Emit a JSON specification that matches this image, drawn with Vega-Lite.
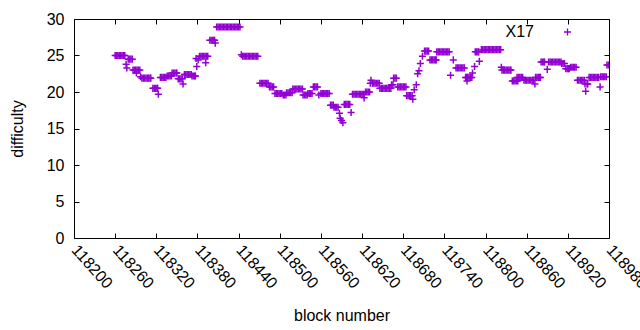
{
  "$schema": "https://vega.github.io/schema/vega-lite/v6.json",
  "width": 535,
  "height": 219,
  "autosize": {"type": "none"},
  "padding": {"left": 74, "top": 19, "right": 31, "bottom": 92},
  "background": "white",
  "config": {
    "view": {"stroke": "black", "strokeWidth": 1},
    "font": "Liberation Sans",
    "axis": {
      "labelFont": "Liberation Sans", "labelFontSize": 16, "labelColor": "black",
      "titleFont": "Liberation Sans", "titleFontSize": 16, "titleFontWeight": "normal", "titleColor": "black",
      "grid": false, "domain": false, "tickColor": "black", "tickSize": -5, "tickWidth": 1, "labelPadding": 15
    }
  },
  "data": {"values": [
    {"b":118260,"d":25},{"b":118262,"d":25},{"b":118264,"d":25},{"b":118266,"d":25},{"b":118268,"d":25},{"b":118270,"d":25},{"b":118272,"d":25},{"b":118274,"d":25},
    {"b":118276,"d":23.8},{"b":118277,"d":23.3},
    {"b":118279,"d":24.5},{"b":118281,"d":24.5},{"b":118283,"d":24.5},{"b":118285,"d":24.5},
    {"b":118286,"d":23},{"b":118288,"d":23},{"b":118290,"d":23},{"b":118292,"d":23},{"b":118294,"d":23},{"b":118296,"d":23},
    {"b":118291,"d":22.6},{"b":118297,"d":22.1},
    {"b":118299,"d":21.9},{"b":118301,"d":21.9},{"b":118303,"d":21.9},{"b":118305,"d":21.9},{"b":118307,"d":21.9},{"b":118309,"d":21.9},{"b":118311,"d":21.9},{"b":118312,"d":21.9},
    {"b":118315,"d":20.5},{"b":118317,"d":20.5},{"b":118319,"d":20.5},{"b":118321,"d":20.5},{"b":118322,"d":20.5},
    {"b":118323,"d":19.7},
    {"b":118326,"d":22},{"b":118328,"d":22},{"b":118330,"d":22},{"b":118332,"d":22},{"b":118334,"d":22},
    {"b":118336,"d":22.2},{"b":118338,"d":22.2},{"b":118340,"d":22.2},{"b":118342,"d":22.2},
    {"b":118343,"d":22.6},{"b":118345,"d":22.6},{"b":118347,"d":22.6},{"b":118349,"d":22.6},{"b":118350,"d":22.6},
    {"b":118352,"d":21.8},{"b":118354,"d":21.8},{"b":118356,"d":21.8},{"b":118358,"d":21.8},
    {"b":118359,"d":21.1},
    {"b":118361,"d":22.4},{"b":118363,"d":22.4},{"b":118365,"d":22.4},{"b":118367,"d":22.4},{"b":118369,"d":22.4},{"b":118371,"d":22.4},
    {"b":118372,"d":22.2},{"b":118374,"d":22.2},{"b":118376,"d":22.2},{"b":118377,"d":22.2},
    {"b":118378,"d":24.6},{"b":118379,"d":23.5},{"b":118381,"d":24.4},
    {"b":118383,"d":24.9},{"b":118385,"d":24.9},{"b":118387,"d":24.9},{"b":118389,"d":24.9},{"b":118391,"d":24.9},{"b":118393,"d":24.9},{"b":118395,"d":24.9},
    {"b":118392,"d":24.0},
    {"b":118398,"d":27.1},{"b":118400,"d":27.1},{"b":118402,"d":27.1},{"b":118404,"d":27.1},{"b":118405,"d":27.1},
    {"b":118406,"d":26.7},
    {"b":118408,"d":28.9},{"b":118410,"d":28.9},{"b":118412,"d":28.9},{"b":118414,"d":28.9},{"b":118416,"d":28.9},{"b":118418,"d":28.9},{"b":118420,"d":28.9},{"b":118422,"d":28.9},{"b":118424,"d":28.9},{"b":118426,"d":28.9},{"b":118428,"d":28.9},{"b":118430,"d":28.9},{"b":118432,"d":28.9},{"b":118434,"d":28.9},{"b":118436,"d":28.9},{"b":118438,"d":28.9},{"b":118440,"d":28.9},{"b":118442,"d":28.9},
    {"b":118444,"d":25.1},
    {"b":118446,"d":24.9},{"b":118448,"d":24.9},{"b":118450,"d":24.9},{"b":118452,"d":24.9},{"b":118454,"d":24.9},{"b":118456,"d":24.9},{"b":118458,"d":24.9},{"b":118460,"d":24.9},{"b":118462,"d":24.9},{"b":118464,"d":24.9},{"b":118466,"d":24.9},{"b":118468,"d":24.9},
    {"b":118471,"d":21.2},{"b":118473,"d":21.2},{"b":118475,"d":21.2},{"b":118477,"d":21.2},{"b":118479,"d":21.2},{"b":118481,"d":21.2},{"b":118483,"d":21.2},
    {"b":118485,"d":20.7},{"b":118487,"d":20.7},{"b":118489,"d":20.7},{"b":118491,"d":20.7},
    {"b":118493,"d":19.8},{"b":118495,"d":19.8},{"b":118497,"d":19.8},{"b":118499,"d":19.8},{"b":118501,"d":19.8},{"b":118503,"d":19.8},
    {"b":118505,"d":19.6},{"b":118507,"d":19.6},{"b":118509,"d":19.6},
    {"b":118510,"d":19.9},{"b":118512,"d":19.9},{"b":118514,"d":19.9},{"b":118516,"d":19.9},{"b":118518,"d":19.9},
    {"b":118519,"d":20.4},{"b":118521,"d":20.4},{"b":118523,"d":20.4},{"b":118525,"d":20.4},{"b":118527,"d":20.4},{"b":118529,"d":20.4},{"b":118531,"d":20.4},{"b":118533,"d":20.4},
    {"b":118534,"d":19.6},{"b":118536,"d":19.6},{"b":118538,"d":19.6},{"b":118540,"d":19.6},
    {"b":118541,"d":19.8},{"b":118543,"d":19.8},{"b":118545,"d":19.8},{"b":118547,"d":19.8},
    {"b":118549,"d":20.7},{"b":118551,"d":20.7},{"b":118553,"d":20.7},{"b":118555,"d":20.7},
    {"b":118557,"d":19.6},
    {"b":118560,"d":19.8},{"b":118562,"d":19.8},{"b":118564,"d":19.8},{"b":118566,"d":19.8},{"b":118568,"d":19.8},{"b":118570,"d":19.8},{"b":118572,"d":19.8},
    {"b":118574,"d":18.2},{"b":118576,"d":18.2},{"b":118578,"d":18.2},
    {"b":118579,"d":17.9},{"b":118581,"d":17.9},{"b":118583,"d":17.9},{"b":118585,"d":17.9},
    {"b":118587,"d":17.1},{"b":118588,"d":16.4},{"b":118590,"d":16.1},{"b":118592,"d":15.8},
    {"b":118594,"d":18.3},{"b":118596,"d":18.3},{"b":118598,"d":18.3},{"b":118600,"d":18.3},{"b":118602,"d":18.3},
    {"b":118604,"d":17.2},
    {"b":118606,"d":19.7},{"b":118608,"d":19.7},{"b":118610,"d":19.7},{"b":118612,"d":19.7},{"b":118614,"d":19.7},{"b":118616,"d":19.7},{"b":118618,"d":19.7},{"b":118620,"d":19.7},{"b":118622,"d":19.7},
    {"b":118623,"d":19.2},
    {"b":118625,"d":20},{"b":118627,"d":20},{"b":118629,"d":20},{"b":118631,"d":20},
    {"b":118632,"d":21.2},{"b":118633,"d":21.6},
    {"b":118635,"d":21.2},{"b":118637,"d":21.2},{"b":118639,"d":21.2},{"b":118641,"d":21.2},{"b":118643,"d":21.2},{"b":118645,"d":21.2},
    {"b":118646,"d":20.5},{"b":118648,"d":20.5},{"b":118650,"d":20.5},{"b":118652,"d":20.5},{"b":118654,"d":20.5},{"b":118656,"d":20.5},{"b":118658,"d":20.5},{"b":118660,"d":20.5},{"b":118662,"d":20.5},
    {"b":118663,"d":21.0},{"b":118665,"d":21.0},
    {"b":118666,"d":21.9},{"b":118668,"d":21.9},{"b":118670,"d":21.9},
    {"b":118672,"d":20.7},{"b":118674,"d":20.7},{"b":118676,"d":20.7},{"b":118678,"d":20.7},{"b":118680,"d":20.7},{"b":118682,"d":20.7},{"b":118684,"d":20.7},
    {"b":118685,"d":19.5},{"b":118687,"d":19.5},{"b":118689,"d":19.5},{"b":118691,"d":19.5},{"b":118693,"d":19.5},
    {"b":118694,"d":19.0},{"b":118696,"d":20.3},{"b":118699,"d":21.0},{"b":118701,"d":22.5},{"b":118703,"d":22.9},{"b":118705,"d":23.9},{"b":118708,"d":24.9},
    {"b":118711,"d":25.6},{"b":118713,"d":25.6},{"b":118715,"d":25.6},{"b":118717,"d":25.6},
    {"b":118719,"d":24.4},{"b":118721,"d":24.4},{"b":118723,"d":24.4},{"b":118725,"d":24.4},{"b":118727,"d":24.4},{"b":118728,"d":24.4},
    {"b":118729,"d":25.5},{"b":118731,"d":25.5},{"b":118733,"d":25.5},{"b":118735,"d":25.5},{"b":118737,"d":25.5},{"b":118739,"d":25.5},{"b":118741,"d":25.5},{"b":118743,"d":25.5},{"b":118745,"d":25.5},{"b":118747,"d":25.5},
    {"b":118749,"d":22.3},{"b":118753,"d":24.4},
    {"b":118757,"d":23.3},{"b":118759,"d":23.3},{"b":118761,"d":23.3},{"b":118763,"d":23.3},{"b":118765,"d":23.3},{"b":118767,"d":23.3},{"b":118769,"d":23.3},
    {"b":118771,"d":22},{"b":118772,"d":22},{"b":118774,"d":22},{"b":118776,"d":22},{"b":118778,"d":22},{"b":118780,"d":22},
    {"b":118773,"d":21.5},{"b":118781,"d":22.6},{"b":118784,"d":23.5},
    {"b":118785,"d":25.5},{"b":118787,"d":25.5},{"b":118789,"d":25.5},{"b":118790,"d":25.5},
    {"b":118791,"d":24.2},
    {"b":118794,"d":25.8},{"b":118796,"d":25.8},{"b":118798,"d":25.8},{"b":118800,"d":25.8},{"b":118802,"d":25.8},{"b":118804,"d":25.8},{"b":118806,"d":25.8},{"b":118808,"d":25.8},{"b":118810,"d":25.8},{"b":118812,"d":25.8},{"b":118814,"d":25.8},{"b":118816,"d":25.8},{"b":118818,"d":25.8},{"b":118820,"d":25.8},{"b":118822,"d":25.8},
    {"b":118823,"d":23.4},
    {"b":118824,"d":23},{"b":118826,"d":23},{"b":118828,"d":23},{"b":118830,"d":23},{"b":118832,"d":23},{"b":118834,"d":23},{"b":118836,"d":23},{"b":118837,"d":23},
    {"b":118839,"d":21.5},{"b":118841,"d":21.5},{"b":118843,"d":21.5},{"b":118845,"d":21.5},{"b":118847,"d":21.5},
    {"b":118846,"d":22},{"b":118848,"d":22},{"b":118850,"d":22},{"b":118852,"d":22},{"b":118854,"d":22},
    {"b":118856,"d":21.6},{"b":118858,"d":21.6},{"b":118860,"d":21.6},{"b":118862,"d":21.6},{"b":118864,"d":21.6},{"b":118866,"d":21.6},{"b":118868,"d":21.6},{"b":118870,"d":21.6},
    {"b":118872,"d":21.1},
    {"b":118873,"d":22},{"b":118875,"d":22},{"b":118877,"d":22},{"b":118879,"d":22},{"b":118880,"d":22},
    {"b":118881,"d":24.1},{"b":118883,"d":24.1},{"b":118885,"d":24.1},{"b":118886,"d":24.1},
    {"b":118890,"d":23.1},
    {"b":118892,"d":24.1},{"b":118894,"d":24.1},{"b":118896,"d":24.1},{"b":118898,"d":24.1},{"b":118900,"d":24.1},{"b":118902,"d":24.1},{"b":118904,"d":24.1},{"b":118906,"d":24.1},{"b":118908,"d":24.1},{"b":118910,"d":24.1},
    {"b":118911,"d":23.9},{"b":118913,"d":23.9},{"b":118915,"d":23.9},
    {"b":118917,"d":23.2},{"b":118919,"d":23.2},{"b":118921,"d":23.2},{"b":118922,"d":23.2},
    {"b":118924,"d":23.4},{"b":118926,"d":23.4},{"b":118928,"d":23.4},{"b":118930,"d":23.4},{"b":118932,"d":23.4},
    {"b":118934,"d":21.6},{"b":118936,"d":21.6},{"b":118938,"d":21.6},{"b":118940,"d":21.6},{"b":118942,"d":21.6},{"b":118944,"d":21.6},
    {"b":118945,"d":21.1},{"b":118946,"d":20.1},{"b":118948,"d":21.1},{"b":118949,"d":21.1},
    {"b":118951,"d":22},{"b":118953,"d":22},{"b":118955,"d":22},{"b":118957,"d":22},{"b":118959,"d":22},{"b":118961,"d":22},{"b":118963,"d":22},{"b":118965,"d":22},
    {"b":118967,"d":20.7},
    {"b":118968,"d":22.1},{"b":118970,"d":22.1},{"b":118972,"d":22.1},{"b":118974,"d":22.1},{"b":118976,"d":22.1},
    {"b":118977,"d":23.7},{"b":118979,"d":23.7}
  ]},
  "layer": [
    {
      "mark": {"type": "point", "shape": "M-1,0H1M0,-1V1", "filled": false, "size": 50, "strokeWidth": 1.5, "opacity": 1, "clip": true},
      "encoding": {
        "x": {"field": "b", "type": "quantitative",
          "scale": {"domain": [118200, 118980], "nice": false, "zero": false},
          "axis": {"orient": "bottom", "title": "block number", "values": [118200,118260,118320,118380,118440,118500,118560,118620,118680,118740,118800,118860,118920,118980],
            "format": "d", "labelAngle": 48, "labelAlign": "left", "labelBaseline": "middle", "labelPadding": 14, "titlePadding": 16, "labelOverlap": false, "labelFlush": false, "labelBound": false}},
        "y": {"field": "d", "type": "quantitative",
          "scale": {"domain": [0, 30], "nice": false, "zero": false},
          "axis": {"orient": "left", "title": "difficulty", "values": [0,5,10,15,20,25,30], "titlePadding": 21, "labelOverlap": false, "labelFlush": false}},
        "color": {"datum": "X17", "type": "nominal", "scale": {"range": ["#9400D3"]},
          "legend": {"title": null, "orient": "none", "legendX": 485.5, "legendY": 5, "padding": 0,
            "symbolType": "M-1,0H1M0,-1V1", "symbolSize": 50, "symbolStrokeWidth": 1.3, "symbolFillColor": "transparent", "symbolStrokeColor": "#9400D3",
            "labelFont": "Liberation Sans", "labelFontSize": 16, "labelColor": "black", "labelAlign": "right", "labelOffset": -41.5}}
      }
    },
    {
      "mark": {"type": "point", "opacity": 0},
      "encoding": {
        "x": {"field": "b", "type": "quantitative", "scale": {"domain": [118200, 118980], "nice": false, "zero": false},
          "axis": {"orient": "top", "title": null, "labels": false, "values": [118200,118260,118320,118380,118440,118500,118560,118620,118680,118740,118800,118860,118920,118980]}},
        "y": {"field": "d", "type": "quantitative", "scale": {"domain": [0, 30], "nice": false, "zero": false},
          "axis": {"orient": "right", "title": null, "labels": false, "values": [0,5,10,15,20,25,30]}}
      }
    }
  ],
  "resolve": {"axis": {"x": "independent", "y": "independent"}}
}
